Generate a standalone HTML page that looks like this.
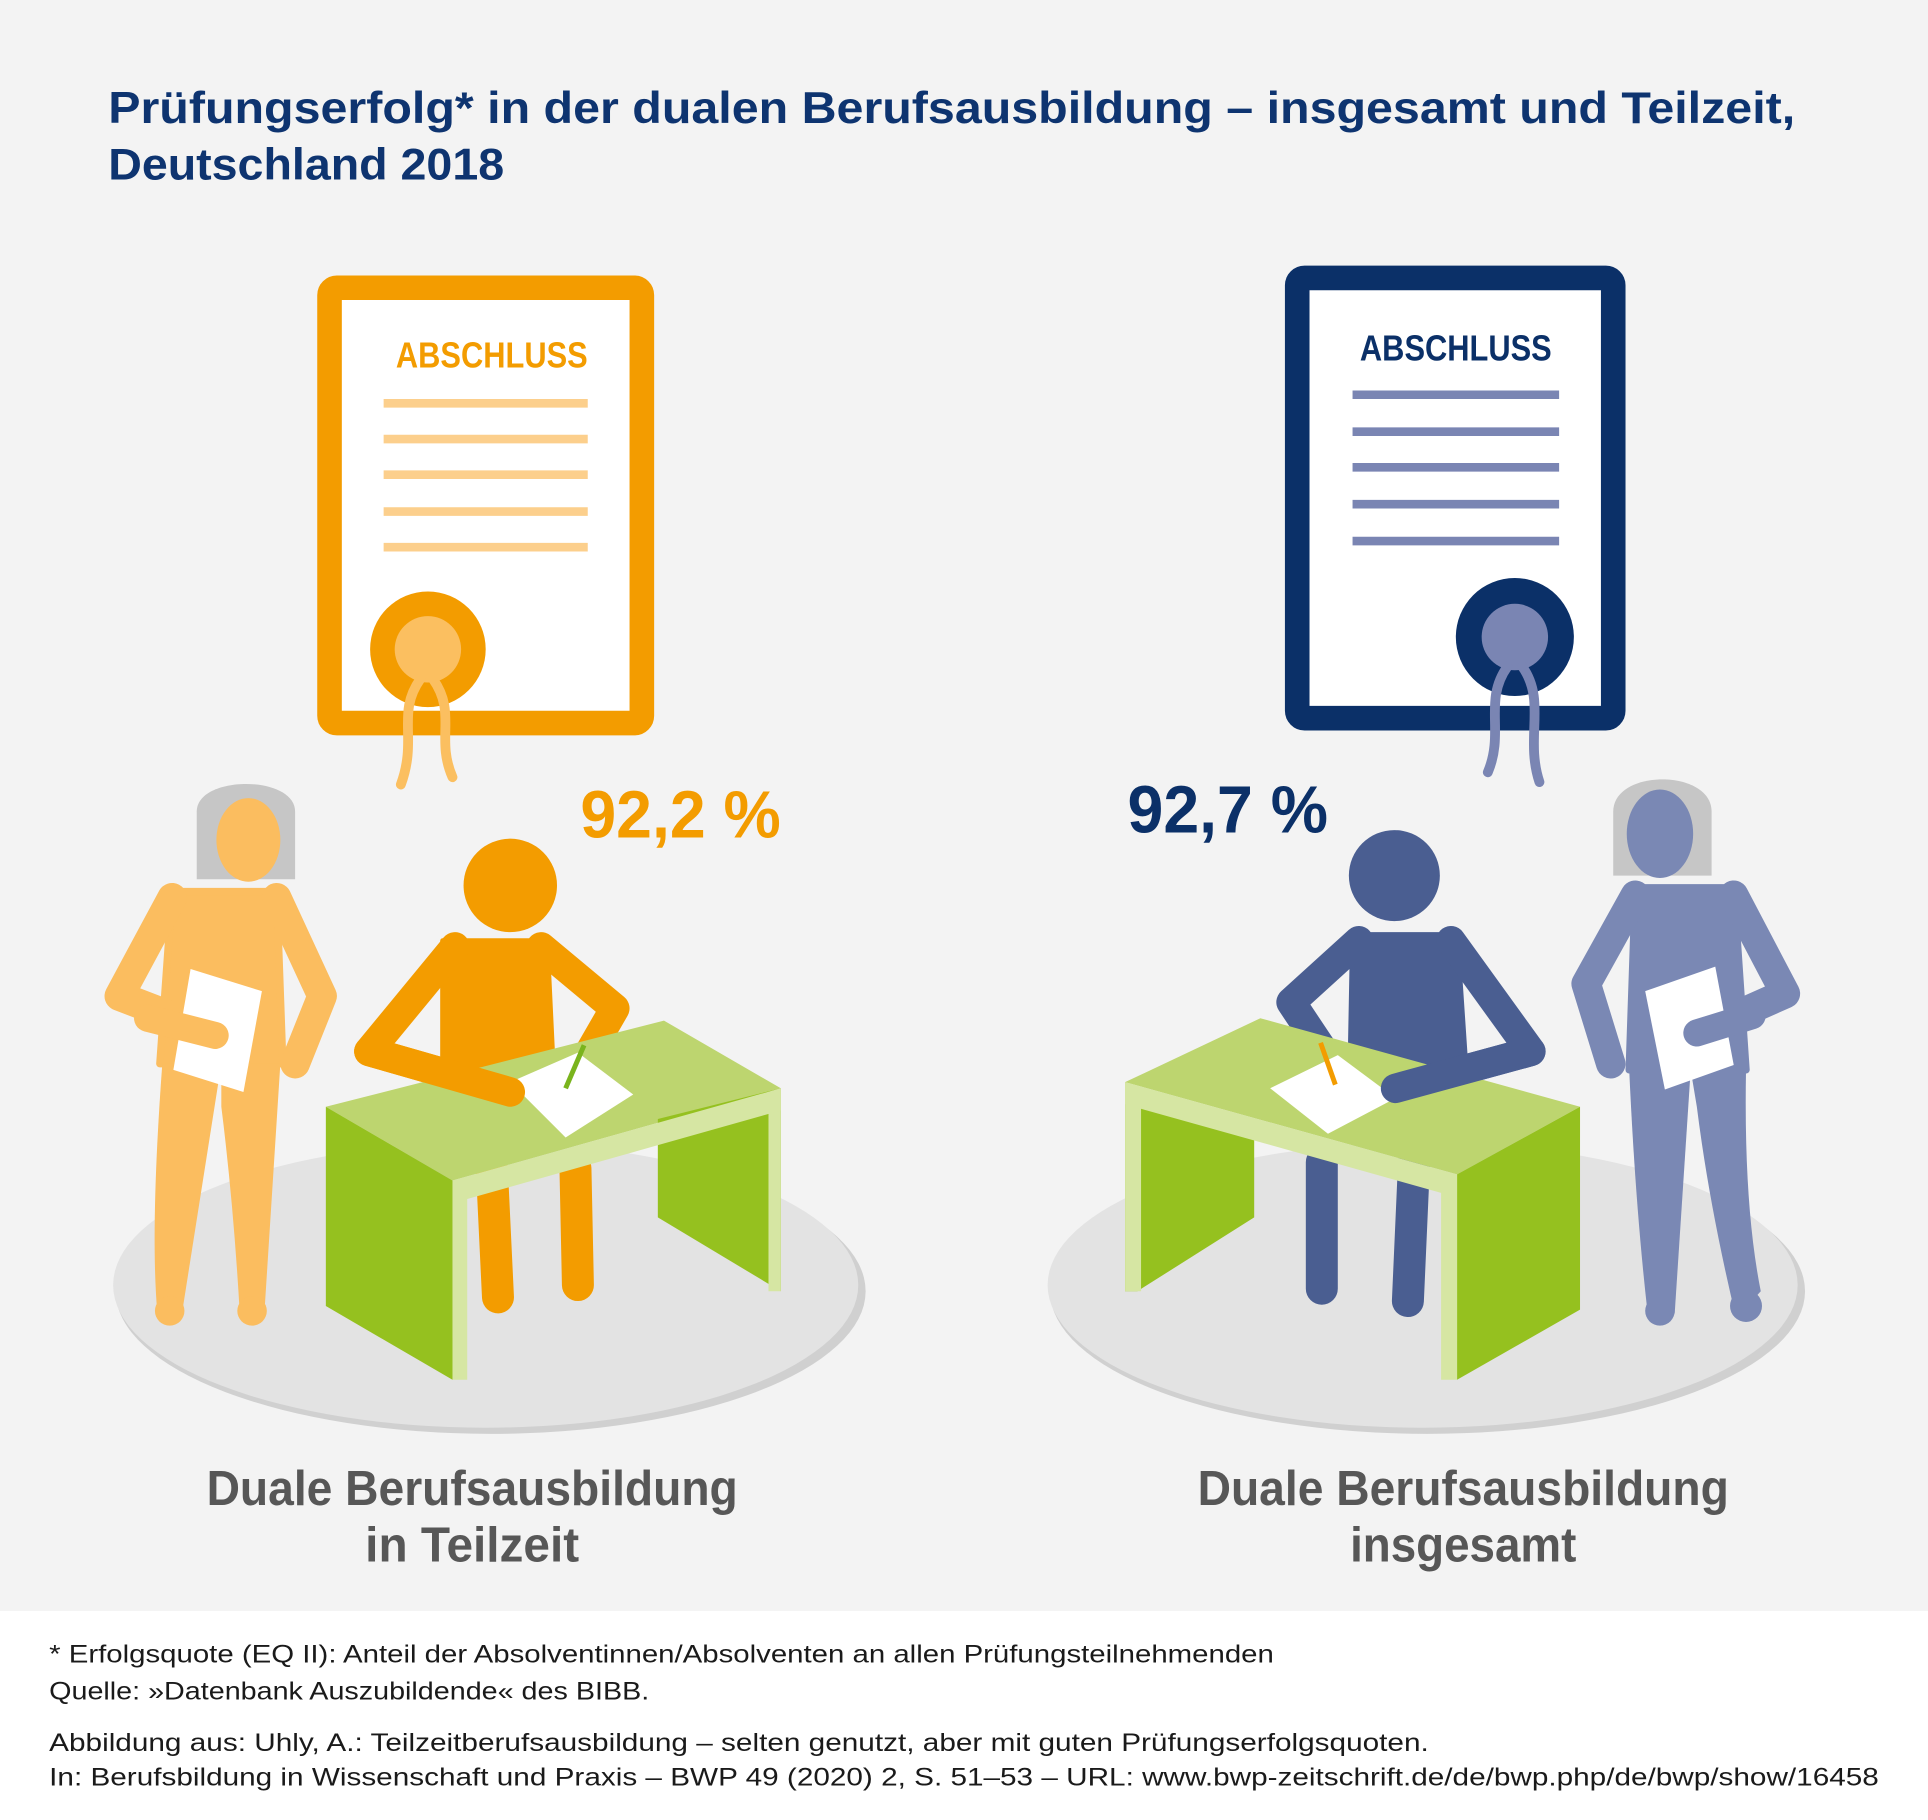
<!DOCTYPE html>
<html><head><meta charset="utf-8"><style>
html,body{margin:0;padding:0;background:#fff}
svg{display:block}
text{font-family:"Liberation Sans",sans-serif}
</style></head><body>
<svg width="1928" height="1820" viewBox="0 0 1568 1480" preserveAspectRatio="none" xmlns="http://www.w3.org/2000/svg">
<rect x="0" y="0" width="1568" height="1310" fill="#f3f3f3"/>
<rect x="0" y="1310" width="1568" height="170" fill="#fff"/>
<text x="88" y="100" font-size="36" font-weight="bold" fill="#0e3470" textLength="1372" lengthAdjust="spacingAndGlyphs">Prüfungserfolg* in der dualen Berufsausbildung – insgesamt und Teilzeit,</text>
<text x="88" y="146" font-size="36" font-weight="bold" fill="#0e3470" textLength="322" lengthAdjust="spacingAndGlyphs">Deutschland 2018</text>

<ellipse cx="399" cy="1050" rx="305" ry="116" fill="#d0d0d0"/>
<ellipse cx="395" cy="1045" rx="303" ry="116" fill="#e3e3e3"/>
<ellipse cx="1161" cy="1050" rx="307" ry="116" fill="#d0d0d0"/>
<ellipse cx="1157" cy="1045" rx="305" ry="116" fill="#e3e3e3"/>

<rect x="268" y="234" width="254" height="354" fill="#fff" stroke="#f39c00" stroke-width="20" rx="6"/>
<text x="400" y="299" font-size="29" font-weight="bold" fill="#f39c00" text-anchor="middle" textLength="156" lengthAdjust="spacingAndGlyphs">ABSCHLUSS</text>
<g stroke="#fccf8c" stroke-width="7"><line x1="312" y1="328" x2="478" y2="328"/><line x1="312" y1="357" x2="478" y2="357"/><line x1="312" y1="386" x2="478" y2="386"/><line x1="312" y1="416" x2="478" y2="416"/><line x1="312" y1="445" x2="478" y2="445"/></g>
<circle cx="348" cy="528" r="47" fill="#f39c00"/>
<circle cx="348" cy="528" r="27" fill="#fbbf60"/>
<path d="M342 552 C322 580 340 600 326 638 M352 552 C372 580 354 600 368 632" stroke="#fbbf60" stroke-width="8" fill="none" stroke-linecap="round"/>

<rect x="1055" y="226" width="257" height="358" fill="#fff" stroke="#0b3068" stroke-width="20" rx="6"/>
<text x="1184" y="293" font-size="29" font-weight="bold" fill="#0b3068" text-anchor="middle" textLength="156" lengthAdjust="spacingAndGlyphs">ABSCHLUSS</text>
<g stroke="#7a85b3" stroke-width="7"><line x1="1100" y1="321" x2="1268" y2="321"/><line x1="1100" y1="351" x2="1268" y2="351"/><line x1="1100" y1="380" x2="1268" y2="380"/><line x1="1100" y1="410" x2="1268" y2="410"/><line x1="1100" y1="440" x2="1268" y2="440"/></g>
<circle cx="1232" cy="518" r="48" fill="#0b3068"/>
<circle cx="1232" cy="518" r="27" fill="#7a85b3"/>
<path d="M1226 542 C1206 570 1224 595 1210 628 M1238 542 C1258 570 1240 600 1252 636" stroke="#7a85b3" stroke-width="8" fill="none" stroke-linecap="round"/>

<text x="472" y="681" font-size="54" font-weight="bold" fill="#f39c00" textLength="163" lengthAdjust="spacingAndGlyphs">92,2 %</text>
<text x="917" y="677" font-size="54" font-weight="bold" fill="#0b3068" textLength="163" lengthAdjust="spacingAndGlyphs">92,7 %</text>

<g fill="#fbbd5f" stroke="#fbbd5f" stroke-linecap="round" stroke-linejoin="round">
<path d="M160 660 C160 630 240 630 240 660 L240 715 L160 715 Z" fill="#c6c6c6" stroke="none"/>
<ellipse cx="202" cy="683" rx="26" ry="34" stroke="none"/>
<path d="M140 725 L225 725 L230 865 L130 865 Z" stroke-width="6"/>
<path d="M140 730 L97 810 L175 840" fill="none" stroke-width="24"/>
<path d="M225 730 L262 810 L240 865" fill="none" stroke-width="24"/>
<path d="M132 865 L180 865 L148 1068 L128 1068 Q122 1000 132 865 Z" stroke="none"/>
<path d="M180 865 L228 865 L215 1068 L195 1068 Q190 980 180 900 Z" stroke="none"/>
<circle cx="138" cy="1066" r="12" stroke="none"/>
<circle cx="205" cy="1066" r="12" stroke="none"/>
</g>
<polygon points="155,788 213,806 198,888 141,870" fill="#fff"/>
<path d="M120 828 L175 842" stroke="#fbbd5f" stroke-width="22" stroke-linecap="round"/>

<g stroke="#f39c00" fill="#f39c00" stroke-linecap="round" stroke-linejoin="round">
<circle cx="415" cy="720" r="38" stroke="none"/>
<path d="M360 765 L445 765 L450 870 L360 870 Z" stroke-width="4"/>
<path d="M370 770 L300 855 L415 888" fill="none" stroke-width="24"/>
<path d="M440 770 L500 820 L470 872" fill="none" stroke-width="24"/>
<path d="M400 950 L405 1055 M468 950 L470 1045" fill="none" stroke-width="26"/>
</g>

<polygon points="265,900 540,830 635,885 368,960" fill="#bdd56f"/>
<polygon points="535,910 635,885 635,1050 535,990" fill="#95c11f"/>
<polygon points="625,888 635,885 635,1050 625,1050" fill="#d6e6a3"/>
<polygon points="265,900 368,960 368,1122 265,1062" fill="#95c11f"/>
<polygon points="368,960 635,885 635,903 380,975 380,1122 368,1122" fill="#d6e6a3"/>
<polygon points="415,880 470,856 515,890 460,925" fill="#fff"/>
<line x1="460" y1="885" x2="475" y2="850" stroke="#7ab41d" stroke-width="4"/>
<path d="M300 855 L415 888" stroke="#f39c00" stroke-width="24" stroke-linecap="round"/>

<g fill="#7a88b4" stroke="#7a88b4" stroke-linecap="round" stroke-linejoin="round">
<path d="M1312 660 C1312 625 1392 625 1392 660 L1392 712 L1312 712 Z" fill="#c6c6c6" stroke="none"/>
<ellipse cx="1350" cy="678" rx="27" ry="36" stroke="none"/>
<path d="M1330 722 L1410 722 L1420 870 L1325 870 Z" stroke-width="6"/>
<path d="M1330 728 L1290 800 L1310 865" fill="none" stroke-width="24"/>
<path d="M1410 728 L1452 808 L1380 840" fill="none" stroke-width="24"/>
<path d="M1325 870 L1375 870 L1362 1068 L1340 1068 Q1330 980 1325 870 Z" stroke="none"/>
<path d="M1375 870 L1420 870 Q1418 980 1432 1050 L1412 1072 Q1390 980 1380 900 Z" stroke="none"/>
<circle cx="1350" cy="1066" r="12" stroke="none"/>
<circle cx="1420" cy="1062" r="13" stroke="none"/>
</g>
<polygon points="1338,806 1395,786 1410,866 1354,886" fill="#fff"/>
<path d="M1380 840 L1425 826" stroke="#7a88b4" stroke-width="22" stroke-linecap="round"/>

<g stroke="#4a5e91" fill="#4a5e91" stroke-linecap="round" stroke-linejoin="round">
<circle cx="1134" cy="712" r="37" stroke="none"/>
<path d="M1100 760 L1185 760 L1192 865 L1098 865 Z" stroke-width="4"/>
<path d="M1105 765 L1050 815 L1080 860" fill="none" stroke-width="24"/>
<path d="M1180 765 L1245 855 L1135 885" fill="none" stroke-width="24"/>
<path d="M1075 945 L1075 1048 M1150 945 L1145 1058" fill="none" stroke-width="26"/>
</g>

<polygon points="915,880 1025,828 1285,900 1185,955" fill="#bdd56f"/>
<polygon points="915,880 1020,925 1020,990 925,1050 915,1050" fill="#95c11f"/>
<polygon points="915,880 928,884 928,1050 915,1050" fill="#d6e6a3"/>
<polygon points="1185,955 1285,900 1285,1065 1185,1122" fill="#95c11f"/>
<polygon points="915,880 1185,955 1185,1122 1172,1122 1172,970 915,898" fill="#d6e6a3"/>
<polygon points="1033,885 1088,858 1135,893 1080,922" fill="#fff"/>
<line x1="1086" y1="882" x2="1074" y2="848" stroke="#f39c00" stroke-width="4"/>
<path d="M1245 855 L1135 885" stroke="#4a5e91" stroke-width="24" stroke-linecap="round"/>

<g font-size="40" font-weight="bold" fill="#575757" text-anchor="middle">
<text x="384" y="1224" textLength="432" lengthAdjust="spacingAndGlyphs">Duale Berufsausbildung</text>
<text x="384" y="1270" textLength="174" lengthAdjust="spacingAndGlyphs">in Teilzeit</text>
<text x="1190" y="1224" textLength="432" lengthAdjust="spacingAndGlyphs">Duale Berufsausbildung</text>
<text x="1190" y="1270" textLength="184" lengthAdjust="spacingAndGlyphs">insgesamt</text>
</g>

<g font-size="20" fill="#1a1a1a">
<text x="40" y="1352" textLength="996" lengthAdjust="spacingAndGlyphs">* Erfolgsquote (EQ II): Anteil der Absolventinnen/Absolventen an allen Prüfungsteilnehmenden</text>
<text x="40" y="1382" textLength="488" lengthAdjust="spacingAndGlyphs">Quelle: »Datenbank Auszubildende« des BIBB.</text>
<text x="40" y="1424" textLength="1122" lengthAdjust="spacingAndGlyphs">Abbildung aus: Uhly, A.: Teilzeitberufsausbildung – selten genutzt, aber mit guten Prüfungserfolgsquoten.</text>
<text x="40" y="1452" textLength="1488" lengthAdjust="spacingAndGlyphs">In: Berufsbildung in Wissenschaft und Praxis – BWP 49 (2020) 2, S. 51–53 – URL: www.bwp-zeitschrift.de/de/bwp.php/de/bwp/show/16458</text>
</g>
</svg>
</body></html>
